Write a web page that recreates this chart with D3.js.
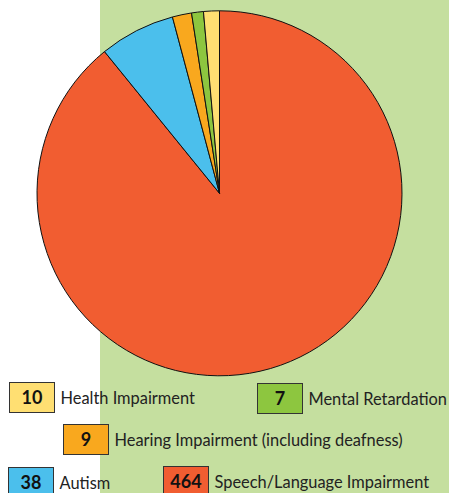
<!DOCTYPE html>
<html>
<head>
<meta charset="utf-8">
<script src="https://cdn.jsdelivr.net/npm/d3@7"></script>
<style>
  body { margin: 0; background: #fff; }
  text { font-family: Lato, "Noto Sans", sans-serif; }
</style>
</head>
<body>
<div id="chart-area"></div>
<script>
const WIDTH = 449
const HEIGHT = 493

// data, clockwise from 12 o'clock
const categories = ["Speech/Language Impairment", "Autism", "Hearing Impairment (including deafness)", "Mental Retardation", "Health Impairment"]
// counts printed in the legend boxes
const values = [464, 38, 9, 7, 10]
// slice shares (%) as drawn in the picture - the pie is not to scale with the counts
const sliceShare = [89.15, 6.7, 1.7, 1.05, 1.4]

// colours per category
const colors = ["#f15d31", "#4bbfec", "#f9a81e", "#8dc63f", "#ffdf72"]

// legend spots (box top-left), same order as categories
const legendPos = [
  { x: 163, y: 466 },
  { x: 8, y: 467 },
  { x: 63, y: 424 },
  { x: 257, y: 383 },
  { x: 9, y: 382 }
]

const svg = d3.select("#chart-area").append("svg")
  .attr("width", WIDTH)
  .attr("height", HEIGHT)

// green panel on the right
svg.append("rect")
  .attr("x", 100)
  .attr("y", 0)
  .attr("width", WIDTH - 100)
  .attr("height", HEIGHT)
  .attr("fill", "#c5df9f")

const data = categories.map((c, i) => ({ name: c, value: values[i], share: sliceShare[i], color: colors[i] }))

const pie = d3.pie().sort(null).value(d => d.share)
const arc = d3.arc().innerRadius(0).outerRadius(182.5)

const g = svg.append("g")
  .attr("transform", "translate(219.5, 193.3)")

g.selectAll("path")
  .data(pie(data))
  .enter().append("path")
  .attr("d", arc)
  .attr("fill", d => d.data.color)
  .attr("stroke", "#111")
  .attr("stroke-width", 1)
  .attr("stroke-linejoin", "round")

// legend
const legend = svg.selectAll(".legend")
  .data(data)
  .enter().append("g")
  .attr("class", "legend")
  .attr("transform", (d, i) => `translate(${legendPos[i].x}, ${legendPos[i].y})`)

legend.append("rect")
  .attr("x", 0.5)
  .attr("y", 0.5)
  .attr("width", 45)
  .attr("height", 30)
  .attr("fill", d => d.color)
  .attr("stroke", "#333")
  .attr("stroke-width", 1)

legend.append("text")
  .attr("x", 23)
  .attr("y", 22)
  .attr("text-anchor", "middle")
  .attr("font-size", 18)
  .attr("font-weight", "bold")
  .attr("fill", "#111")
  .text(d => d.value)

legend.append("text")
  .attr("x", 51.5)
  .attr("y", 22)
  .attr("font-size", 16.4)
  .attr("fill", "#222")
  .text(d => d.name)
</script>
</body>
</html>
